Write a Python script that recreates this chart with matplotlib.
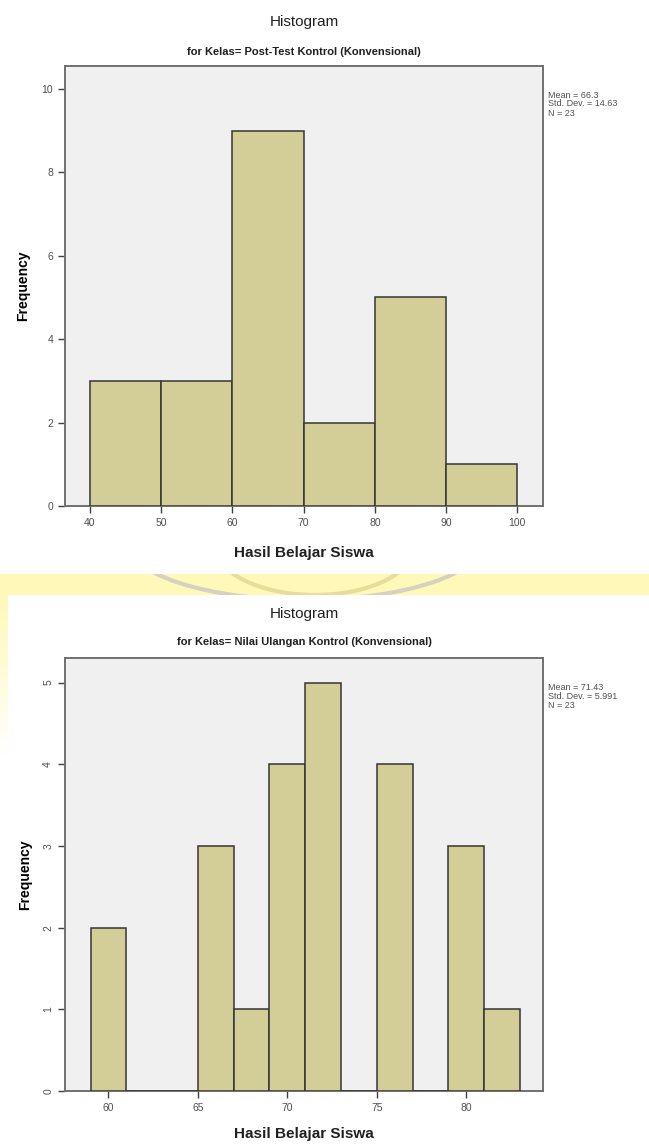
import matplotlib.pyplot as plt
from matplotlib.patches import Rectangle, Arc
import numpy as np

# top histogram: Post-Test Kontrol
top_edges = [40, 50, 60, 70, 80, 90, 100]
top_counts = [3, 3, 9, 2, 5, 1]
top_xticks = [40, 50, 60, 70, 80, 90, 100]
top_yticks = [0, 2, 4, 6, 8, 10]
top_stats = ["Mean = 66.3", "Std. Dev. = 14.63", "N = 23"]
top_sub = "for Kelas= Post-Test Kontrol (Konvensional)"

# bottom histogram: Nilai Ulangan Kontrol
bot_edges = [59, 61, 63, 65, 67, 69, 71, 73, 75, 77, 79, 81, 83]
bot_counts = [2, 0, 0, 3, 1, 4, 5, 0, 4, 0, 3, 1]
bot_xticks = [60, 65, 70, 75, 80]
bot_yticks = [0, 1, 2, 3, 4, 5]
bot_stats = ["Mean = 71.43", "Std. Dev. = 5.991", "N = 23"]
bot_sub = "for Kelas= Nilai Ulangan Kontrol (Konvensional)"

plt.rcParams['font.family'] = ['Liberation Sans', 'DejaVu Sans']

W, H = 649, 1146
fig = plt.figure(figsize=(W / 100, H / 100), dpi=100)

# yellowish watermark band behind the lower chart
bg = fig.add_axes([0, 0, 1, 1], zorder=-5)
bg.set_xlim(0, W)
bg.set_ylim(H, 0)
bg.axis('off')
bg.add_patch(Rectangle((0, 574), W, 21, color='#FFF8B8', lw=0))
for i in range(40):
    y0 = 595 + i * 4
    a = max(0, 1 - i / 40)
    bg.add_patch(Rectangle((0, y0), 8, 4, color='#FFF8B8', alpha=a, lw=0))
clip = Rectangle((0, 574), W, 21, transform=bg.transData)
for cx, cy, w, h, c in [(305, 540, 360, 120, '#C4C4C4'), (315, 545, 200, 100, '#DDD290')]:
    arc = Arc((cx, cy), w, h, theta1=0, theta2=180,
              color=c, lw=3, alpha=0.7)
    bg.add_patch(arc)
    arc.set_clip_path(clip)


def draw_hist(rect, edges, counts, xlim, ylim, xticks, yticks, sub, stats,
              title_y, sub_y, xlabel_y, rot_y):
    ax = fig.add_axes(rect)
    edges = np.array(edges)
    ax.bar(edges[:-1], counts, width=np.diff(edges), align='edge',
           color='#D3CE97', edgecolor='#353535', linewidth=1.1, zorder=3)
    ax.set_facecolor('#F0F0F0')
    ax.set_xlim(*xlim)
    ax.set_ylim(*ylim)
    ax.set_xticks(xticks)
    ax.set_yticks(yticks)
    for s in ax.spines.values():
        s.set_color('#707070')
        s.set_linewidth(1.4)
    ax.tick_params(axis='both', direction='out', length=5, width=1,
                   color='#404040', labelsize=7.5, labelcolor='#505050')
    if rot_y:
        for t in ax.get_yticklabels():
            t.set_rotation(90)
            t.set_va('center')
    ax.set_ylabel("Frequency", fontsize=10, fontweight='bold', labelpad=8)
    cx = rect[0] + rect[2] / 2
    fig.text(cx, 1 - xlabel_y / H, "Hasil Belajar Siswa",
             ha='center', va='center', fontsize=11, fontweight='bold', color='#202020')
    fig.text(cx, 1 - title_y / H, "Histogram",
             ha='center', va='center', fontsize=11, color='#202020')
    fig.text(cx, 1 - sub_y / H, sub,
             ha='center', va='center', fontsize=8, fontweight='bold', color='#202020')
    top_px = (1 - rect[1] - rect[3]) * H
    for i, line in enumerate(stats):
        fig.text(548 / W, 1 - (top_px + 29 + i * 9) / H, line,
                 ha='left', va='center', fontsize=6.5, color='#505050')
    return ax


draw_hist([65 / W, 1 - 506 / H, 478 / W, 440 / H], top_edges, top_counts,
          (36.5, 103.6), (0, 10.55), top_xticks, top_yticks, top_sub, top_stats,
          title_y=22, sub_y=52, xlabel_y=553, rot_y=False)
draw_hist([65 / W, 1 - 1091 / H, 478 / W, 433 / H], bot_edges, bot_counts,
          (57.57, 84.29), (0, 5.3), bot_xticks, bot_yticks, bot_sub, bot_stats,
          title_y=614, sub_y=642, xlabel_y=1134, rot_y=True)

fig.savefig("out.png", dpi=100)
